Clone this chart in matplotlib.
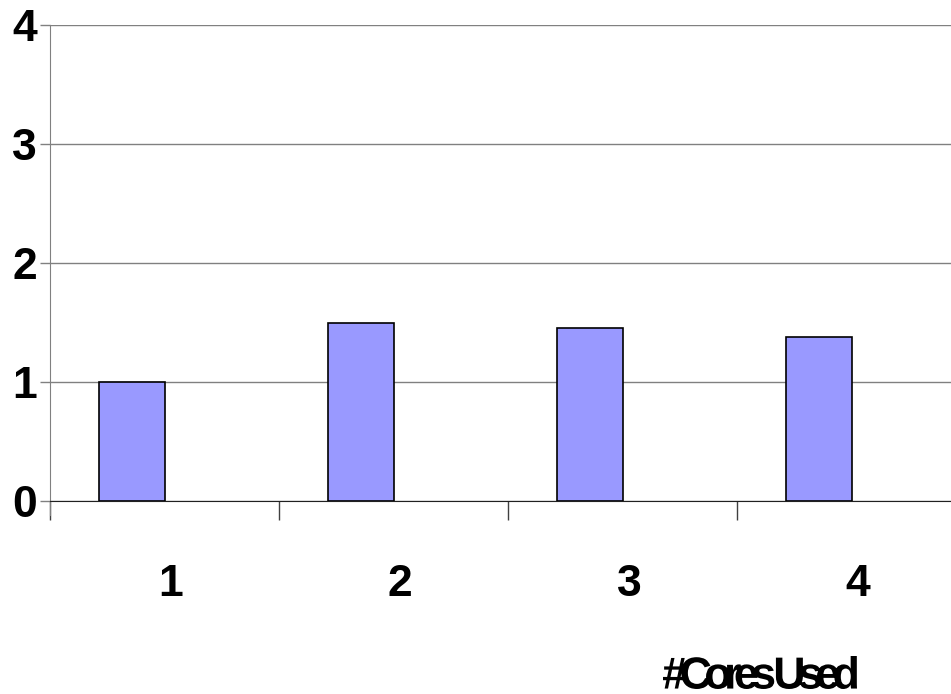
import matplotlib
matplotlib.use("Agg")
import matplotlib.pyplot as plt
from matplotlib.font_manager import FontProperties
from matplotlib.textpath import TextPath, text_to_path
from matplotlib.patches import PathPatch
from matplotlib.transforms import Affine2D, IdentityTransform, blended_transform_factory
from matplotlib.path import Path
import numpy as np

cores = [1, 2, 3, 4]
speedup = [1.0, 1.5, 1.45, 1.38]
y_ticks = [0, 1, 2, 3, 4]
x_title = "#Cores Used"

W, H = 951, 694
fig = plt.figure(figsize=(W / 100, H / 100), dpi=100)
ax = fig.add_axes([49.7 / W, 1 - 501 / H, 1 - 49.7 / W, (501 - 25) / H])

fp = FontProperties(family="Liberation Sans", weight="bold", size=32)

# bars sit a bit left of the category centre (like the original spreadsheet chart)
ax.bar(np.array(cores) - 0.14, speedup, width=0.29, color="#9999ff",
       edgecolor="black", linewidth=1.2, zorder=3)

ax.set_yticks(y_ticks)
ax.set_yticklabels([str(t) for t in y_ticks], fontproperties=fp)
ax.tick_params(axis="y", length=7, width=1, color="#808080", pad=2)
ax.set_xticks(np.arange(0.5, 5, 1.0))
ax.set_xticklabels([])
ax.tick_params(axis="x", length=14, width=1, color="#404040")
ax.set_xlim(0.5, 0.5 + (W - 49.7) / 229.0)
ax.set_ylim(0, 4)
ax.grid(axis="y", color="#808080", linewidth=1, zorder=0)

for s in ["top", "right"]:
    ax.spines[s].set_visible(False)
ax.spines["left"].set_color("#808080")
ax.spines["left"].set_bounds(-14 / 119.0, 4)
ax.spines["bottom"].set_color("#202020")

# category labels
tr = blended_transform_factory(ax.transData, fig.transFigure)
for c in cores:
    ax.text(c + 0.03, 1 - 585 / H, str(c), transform=tr, ha="center",
            va="center", fontproperties=fp)

# condensed axis title with tight tracking
size = 44
tfp = FontProperties(family="Liberation Sans", weight="bold", size=size)
track = 7.5
verts, codes = [], []
x = 0.0
for ch in x_title:
    if ch != " ":
        tp = TextPath((x, 0), ch, size=size, prop=tfp)
        verts.append(tp.vertices)
        codes.append(tp.codes)
    w, h, d = text_to_path.get_text_width_height_descent(ch, tfp, ismath=False)
    x += w - track
path = Path(np.concatenate(verts), np.concatenate(codes))
ext = path.get_extents()
sx = 194 / ext.width
sy = 33 / ext.height
path = Affine2D().translate(-ext.x0, -ext.y0).scale(sx, sy).translate(663, H - 689).transform_path(path)
fig.add_artist(PathPatch(path, transform=IdentityTransform(), facecolor="black", linewidth=0))

fig.savefig("out.png", dpi=100)
